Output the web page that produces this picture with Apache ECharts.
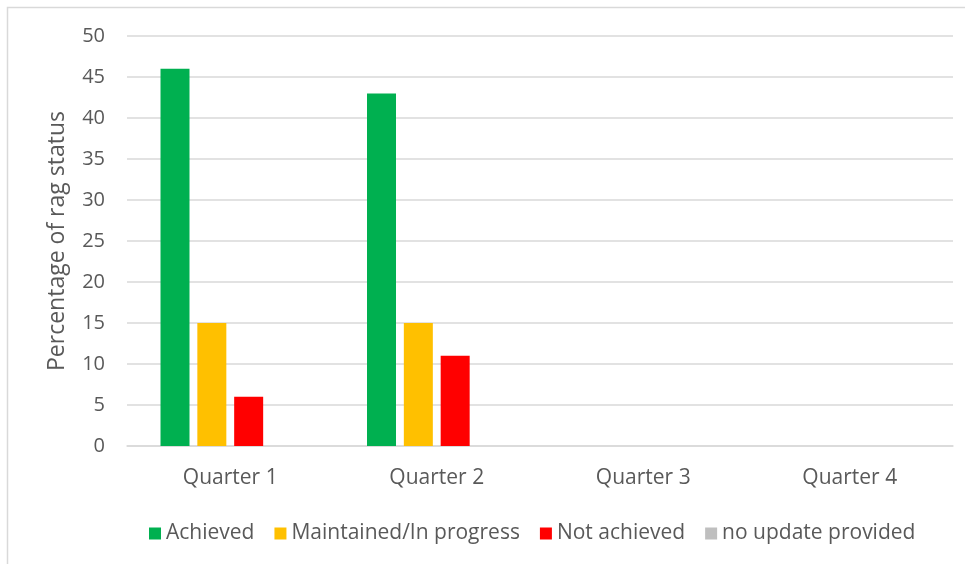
<!DOCTYPE html>
<html>
<head>
<meta charset="utf-8">
<script src="https://cdn.jsdelivr.net/npm/echarts@6/dist/echarts.min.js"></script>
<style>
  html, body { margin: 0; padding: 0; background: #fff; }
  #chart { width: 965px; height: 564px; }
</style>
</head>
<body>
<div id="chart"></div>
<script>
const categories = ['Quarter 1', 'Quarter 2', 'Quarter 3', 'Quarter 4']
const achieved = [46, 43, 0, 0]
const inProgress = [15, 15, 0, 0]
const notAchieved = [6, 11, 0, 0]
const noUpdate = [0, 0, 0, 0]

const font = 'Open Sans'
const textColor = '#595959'

const chart = echarts.init(document.getElementById('chart'))

function bar (name, data, color) {
  return {
    name: name,
    type: 'bar',
    data: data,
    barWidth: 29,
    barGap: '27%',
    itemStyle: { color: color }
  }
}

chart.setOption({
  backgroundColor: '#fff',
  animation: false,
  graphic: [{
    type: 'rect',
    shape: { x: 7.5, y: 7.5, width: 970, height: 570 },
    style: { fill: 'none', stroke: '#d9d9d9', lineWidth: 1.5 },
    silent: true
  }],
  legend: {
    bottom: 15,
    left: 144,
    itemWidth: 12,
    itemHeight: 12,
    itemGap: 20,
    icon: 'rect',
    textStyle: { color: textColor, fontSize: 21, fontFamily: font }
  },
  grid: {
    left: 127,
    right: 12,
    top: 36,
    bottom: 118
  },
  xAxis: {
    type: 'category',
    data: categories,
    axisTick: { show: false },
    axisLine: { lineStyle: { color: '#d9d9d9', width: 1.5 } },
    axisLabel: { color: textColor, fontSize: 21, fontFamily: font, margin: 22 }
  },
  yAxis: {
    type: 'value',
    min: 0,
    max: 50,
    interval: 5,
    name: 'Percentage of rag status',
    nameLocation: 'middle',
    nameGap: 58,
    nameTextStyle: { color: textColor, fontSize: 23, fontFamily: font },
    axisLine: { show: false },
    axisTick: { show: false },
    axisLabel: { color: textColor, fontSize: 20, fontFamily: font, margin: 22 },
    splitLine: { lineStyle: { color: '#d9d9d9', width: 1.5 } }
  },
  series: [
    bar('Achieved', achieved, '#00b050'),
    bar('Maintained/In progress', inProgress, '#ffc000'),
    bar('Not achieved', notAchieved, '#ff0000'),
    bar('no update provided', noUpdate, '#bfbfbf')
  ]
})
</script>
</body>
</html>
